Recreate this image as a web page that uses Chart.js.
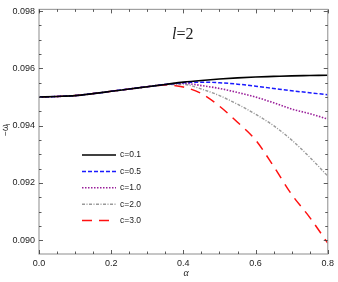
<!DOCTYPE html>
<html>
<head>
<meta charset="utf-8">
<script src="https://cdn.jsdelivr.net/npm/chart.js@4.4.1/dist/chart.umd.min.js"></script>
<style>
  html, body { margin: 0; padding: 0; background: #fff; }
  #wrap { width: 338px; height: 282px; }
</style>
</head>
<body>
<div id="wrap"><canvas id="chart" width="338" height="282"></canvas></div>
<script>
// alpha values along x
const alpha = [0, 0.05, 0.1, 0.15, 0.2, 0.25, 0.3, 0.35, 0.4, 0.45, 0.5, 0.55, 0.6, 0.65, 0.7, 0.75, 0.8];

// -omega_I for each c
const c01 = [0.09500, 0.09502, 0.09505, 0.09512, 0.09520, 0.09528, 0.09536, 0.09544, 0.09552, 0.09558, 0.09563, 0.09567, 0.09570, 0.09572, 0.09574, 0.09575, 0.09576];
const c05 = [0.09500, 0.09502, 0.09505, 0.09512, 0.09520, 0.09528, 0.09536, 0.09544, 0.09550, 0.09552, 0.09550, 0.09545, 0.09538, 0.09530, 0.09522, 0.09515, 0.09508];
const c10 = [0.09500, 0.09502, 0.09505, 0.09512, 0.09520, 0.09528, 0.09536, 0.09544, 0.09548, 0.09540, 0.09530, 0.09516, 0.09500, 0.09480, 0.09458, 0.09442, 0.09423];
const c20 = [0.09500, 0.09502, 0.09505, 0.09512, 0.09520, 0.09528, 0.09536, 0.09544, 0.09544, 0.09528, 0.09505, 0.09475, 0.09440, 0.09400, 0.09350, 0.09290, 0.09224];
const c30 = [0.09500, 0.09502, 0.09505, 0.09512, 0.09520, 0.09528, 0.09536, 0.09542, 0.09535, 0.09512, 0.09468, 0.09412, 0.09350, 0.09258, 0.09160, 0.09080, 0.08990];

const seriesNames = ['c=0.1', 'c=0.5', 'c=1.0', 'c=2.0', 'c=3.0'];
const yTicks = [0.090, 0.092, 0.094, 0.096, 0.098];
const xTicks = [0.0, 0.2, 0.4, 0.6, 0.8];

function pts(ys) {
  return alpha.map((a, i) => ({x: a, y: ys[i]}));
}

const styles = [
  {color: '#000000', dash: [], width: 1.6},
  {color: '#1a1aff', dash: [4, 2], width: 1.5},
  {color: '#9a1f9a', dash: [1.5, 1.5], width: 1.6},
  {color: '#999999', dash: [3, 1.5, 1, 1.5], width: 1.4},
  {color: '#ff1010', dash: [10, 7], width: 1.5},
];

const datasets = [c01, c05, c10, c20, c30].map((ys, i) => ({
  label: seriesNames[i],
  data: pts(ys),
  borderColor: styles[i].color,
  borderDash: styles[i].dash,
  borderWidth: styles[i].width,
  pointRadius: 0,
  fill: false,
  cubicInterpolationMode: 'monotone',
}));

// frame, ticks, legend, titles
const decor = {
  id: 'decor',
  afterDraw(chart) {
    const ctx = chart.ctx;
    const a = chart.chartArea;
    const xs = chart.scales.x, ys = chart.scales.y;
    ctx.save();
    ctx.strokeStyle = '#a0a0a0';
    ctx.lineWidth = 1.2;
    ctx.strokeRect(a.left, a.top, a.right - a.left, a.bottom - a.top);

    ctx.strokeStyle = '#333';
    ctx.lineWidth = 0.8;
    ctx.beginPath();
    for (let k = 0; k <= 16; k++) {
      const v = k * 0.05;
      const px = Math.round(xs.getPixelForValue(v)) + 0.5;
      const len = (k % 4 === 0) ? 4 : 2.5;
      ctx.moveTo(px, a.bottom); ctx.lineTo(px, a.bottom - len);
      ctx.moveTo(px, a.top); ctx.lineTo(px, a.top + len);
    }
    for (let k = 0; k <= 16; k++) {
      const v = 0.090 + k * 0.0005;
      const py = Math.round(ys.getPixelForValue(v)) + 0.5;
      const len = (k % 4 === 0) ? 4 : 2.5;
      ctx.moveTo(a.left, py); ctx.lineTo(a.left + len, py);
      ctx.moveTo(a.right, py); ctx.lineTo(a.right - len, py);
    }
    ctx.stroke();

    // legend
    ctx.font = '8.5px "Liberation Sans", Arial, sans-serif';
    ctx.textBaseline = 'middle';
    chart.data.datasets.forEach((ds, i) => {
      const y = 155 + i * 16.4;
      ctx.strokeStyle = ds.borderColor;
      ctx.lineWidth = ds.borderWidth;
      ctx.setLineDash(ds.borderDash);
      ctx.beginPath();
      ctx.moveTo(82, y); ctx.lineTo(116, y);
      ctx.stroke();
      ctx.setLineDash([]);
      ctx.fillStyle = '#222';
      ctx.fillText(ds.label, 120, y);
    });

    // l=2
    ctx.fillStyle = '#222';
    ctx.textBaseline = 'alphabetic';
    ctx.font = 'italic 16px "Liberation Serif", "DejaVu Serif", serif';
    ctx.fillText('l', 172, 39);
    const w = ctx.measureText('l').width;
    ctx.font = '16px "Liberation Serif", "DejaVu Serif", serif';
    ctx.fillText('=2', 172 + w, 39);

    // axis titles
    ctx.font = 'italic 10px "Liberation Serif", serif';
    ctx.textAlign = 'center';
    ctx.fillText('\u03b1', 186, 276);

    ctx.translate(8, 128);
    ctx.rotate(-Math.PI / 2);
    ctx.textAlign = 'left';
    ctx.font = '8.5px "Liberation Sans", sans-serif';
    ctx.fillText('\u2212\u03c9', -8, 0);
    ctx.font = '6px "Liberation Sans", sans-serif';
    ctx.fillText('I', 2.5, 2);
    ctx.restore();
  }
};

const config = {
  type: 'line',
  data: {datasets: datasets},
  options: {
    responsive: false,
    animation: false,
    layout: {padding: {top: 5, right: 6, left: 0, bottom: 0}},
    plugins: {legend: {display: false}, tooltip: {enabled: false}},
    scales: {
      x: {
        type: 'linear', min: 0, max: 0.8,
        grid: {display: false, drawTicks: false},
        border: {display: false},
        afterBuildTicks: s => { s.ticks = xTicks.map(v => ({value: v})); },
        afterFit: s => { s.height = 28; },
        ticks: {
          color: '#222', padding: 4,
          font: {family: '"Liberation Sans", Arial, sans-serif', size: 9},
          callback: v => v.toFixed(1),
          maxRotation: 0,
        }
      },
      y: {
        type: 'linear', min: 0.08952, max: 0.09806,
        grid: {display: false, drawTicks: false},
        border: {display: false},
        afterBuildTicks: s => { s.ticks = yTicks.map(v => ({value: v})); },
        afterFit: s => { s.width = 39; },
        ticks: {
          color: '#222', padding: 4,
          font: {family: '"Liberation Sans", Arial, sans-serif', size: 9},
          callback: v => v.toFixed(3),
        }
      }
    }
  },
  plugins: [decor]
};

const chart = new Chart(document.getElementById('chart'), config);
</script>
</body>
</html>
